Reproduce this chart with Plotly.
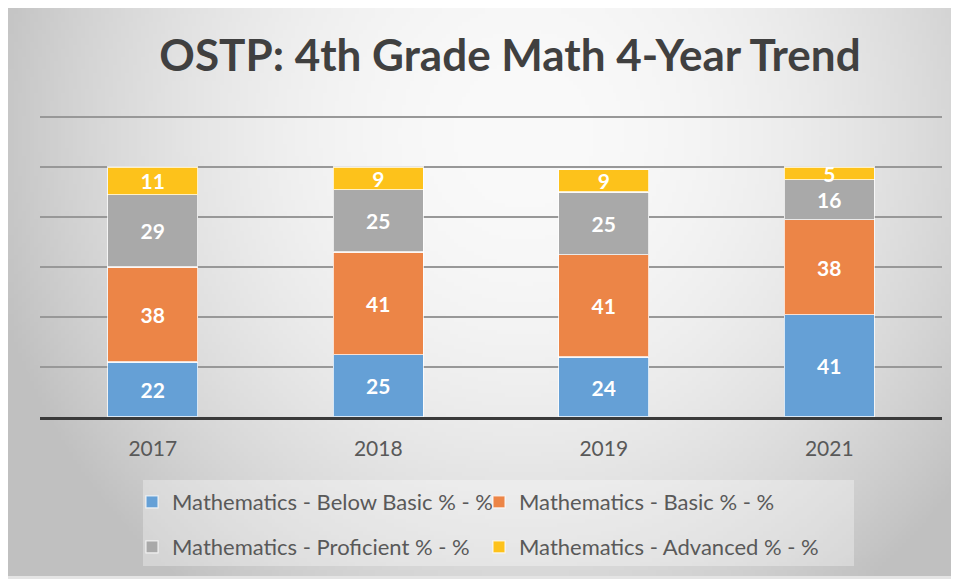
import base64, struct, zlib
import numpy as np
import plotly.graph_objects as go

years = ["2017", "2018", "2019", "2021"]
below_basic = [22, 25, 24, 41]
basic = [38, 41, 41, 38]
proficient = [29, 25, 25, 16]
advanced = [11, 9, 9, 5]
series_names = [
    "Mathematics - Below Basic % - %",
    "Mathematics - Basic % - %",
    "Mathematics - Proficient % - %",
    "Mathematics - Advanced % - %",
]
series_values = [below_basic, basic, proficient, advanced]
series_colors = ["#65a0d6", "#ec8547", "#a9a9a9", "#fdc21b"]
title_text = "OSTP: 4th Grade Math 4-Year Trend"

# the page body adds an 8px offset; figure pixel coords = reference coords - 8
OFF = 8
W, H = 959 - OFF, 579 - OFF
L, R, T, B = 40 - OFF, 942 - OFF, 108 - OFF, 417 - OFF  # plot area pixels
YMAX = (B - T) / 2.5  # 2.5 px per unit -> top gridline at 120 visible


def gradient_png(w, h):
    yy, xx = np.mgrid[0:h, 0:w].astype(float)
    cx, cy = w * 0.54, h * 0.22
    d2 = ((xx - cx) / (w * 0.56)) ** 2 + ((yy - cy) / (h * 0.98)) ** 2
    v = np.clip(250 - 54 * d2, 192, 250).astype(np.uint8)
    arr = np.stack([v, v, v], axis=-1)
    raw = b"".join(b"\x00" + arr[i].tobytes() for i in range(h))

    def chunk(tag, data):
        c = struct.pack(">I", len(data)) + tag + data
        return c + struct.pack(">I", zlib.crc32(tag + data) & 0xFFFFFFFF)

    png = b"\x89PNG\r\n\x1a\n"
    png += chunk(b"IHDR", struct.pack(">IIBBBBB", w, h, 8, 2, 0, 0, 0))
    png += chunk(b"IDAT", zlib.compress(raw, 9))
    png += chunk(b"IEND", b"")
    return "data:image/png;base64," + base64.b64encode(png).decode()


def px_x(p):
    return (p - L) / (R - L)


def px_y(p):
    return (B - p) / (B - T)


fig = go.Figure()
for i, (name, vals, col) in enumerate(zip(series_names, series_values, series_colors)):
    fig.add_trace(go.Bar(
        x=years, y=vals, name=name,
        marker=dict(color=col, line=dict(color="rgba(255,255,255,0.75)", width=1.2)),
        text=[str(v) for v in vals],
        textposition="inside",
        insidetextanchor="middle",
        constraintext="none",
        textangle=0,
        textfont=dict(family="Lato", size=21, color="white", weight="bold"),
        width=0.4,
        legend="legend" if i < 2 else "legend2",
    ))

# background gradient box (fills the figure, slightly short at the bottom)
bx0, by0, bx1, by1 = 0, 0, W, H - 3
fig.add_layout_image(dict(
    source=gradient_png(240, 144),
    xref="paper", yref="paper",
    x=px_x(bx0), y=px_y(by0),
    sizex=(bx1 - bx0) / (R - L), sizey=(by1 - by0) / (B - T),
    xanchor="left", yanchor="top", sizing="stretch", layer="below",
))

# legend background box
fig.add_shape(type="rect", xref="paper", yref="paper",
              x0=px_x(143 - OFF), x1=px_x(854 - OFF), y0=px_y(566 - OFF), y1=px_y(480 - OFF),
              fillcolor="rgba(255,255,255,0.32)", line=dict(width=0), layer="below")

leg_font = dict(family="Lato", size=22, color="#595959")
fig.update_layout(
    width=W, height=H,
    margin=dict(l=L, r=W - R, t=T, b=H - B),
    paper_bgcolor="#e4e4e4",
    plot_bgcolor="rgba(0,0,0,0)",
    barmode="stack",
    title=dict(text=title_text, x=(510 - OFF) / W, xanchor="center", y=1 - (56 - OFF) / H,
               yanchor="middle",
               font=dict(family="Lato", size=44, color="#404040", weight="bold")),
    xaxis=dict(type="category", showline=True, linecolor="#3a3a3a", linewidth=3,
               ticks="", ticklabelstandoff=11,
               tickfont=dict(family="Lato", size=21, color="#595959"), showgrid=False),
    yaxis=dict(range=[0, YMAX], tickvals=[20, 40, 60, 80, 100, 120], showticklabels=False,
               showgrid=True, gridcolor="#989898", gridwidth=1.5, zeroline=False),
    legend=dict(orientation="h", xref="container", yref="container",
                x=(132 - OFF) / W, xanchor="left", y=1 - (502 - OFF) / H, yanchor="middle",
                entrywidth=302, font=leg_font, bgcolor="rgba(0,0,0,0)", traceorder="normal"),
    legend2=dict(orientation="h", xref="container", yref="container",
                 x=(132 - OFF) / W, xanchor="left", y=1 - (547 - OFF) / H, yanchor="middle",
                 entrywidth=302, font=leg_font, bgcolor="rgba(0,0,0,0)", traceorder="normal"),
)

fig.write_html("out.html")
